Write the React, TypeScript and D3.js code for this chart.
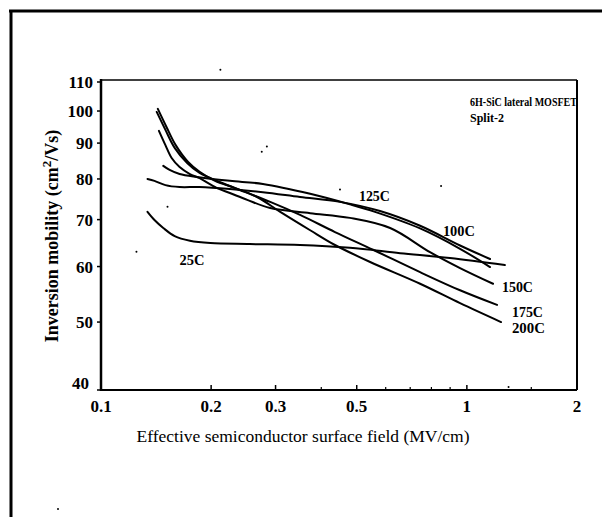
import React from "react";
import * as d3 from "d3";

const W = 602;
const H = 517;

const xTicks = [0.1, 0.2, 0.3, 0.5, 1, 2];
const xTickLabels = ["0.1", "0.2", "0.3", "0.5", "1", "2"];
const xMinorTicks = [0.4, 0.6, 0.7, 0.8, 0.9, 1.5];
const yTicks = [40, 50, 60, 70, 80, 90, 100, 110];

const series25C = [
  [0.134, 71.8], [0.14, 69.9], [0.148, 68.1], [0.159, 66.3], [0.175, 65.3],
  [0.199, 64.8], [0.255, 64.6], [0.35, 64.4], [0.479, 63.8], [0.657, 62.7],
  [0.899, 61.7], [1.27, 60.3],
];
const series100C = [
  [0.134, 80.0], [0.14, 79.5], [0.15, 78.4], [0.164, 77.9], [0.186, 77.9],
  [0.225, 77.4], [0.277, 76.6], [0.35, 75.4], [0.45, 74.2], [0.579, 72.0],
  [0.745, 68.6], [0.958, 64.3], [1.157, 61.5],
];
const series125C = [
  [0.148, 83.5], [0.154, 82.4], [0.164, 81.3], [0.183, 80.5], [0.225, 79.5],
  [0.277, 78.7], [0.373, 76.2], [0.479, 73.6], [0.561, 71.8], [0.745, 68.0],
  [0.958, 63.6], [1.157, 59.9],
];
const series150C = [
  [0.144, 93.7], [0.15, 89.4], [0.156, 85.7], [0.164, 83.2], [0.175, 81.3],
  [0.186, 80.2], [0.207, 77.7], [0.225, 76.4], [0.251, 74.7], [0.29, 72.7],
  [0.373, 71.5], [0.479, 70.4], [0.617, 68.1], [0.793, 62.9], [0.958, 59.7],
  [1.179, 56.7],
];
const series175C = [
  [0.142, 99.7], [0.15, 94.0], [0.159, 88.6], [0.172, 84.3], [0.186, 81.6],
  [0.211, 79.2], [0.248, 76.6], [0.29, 74.2], [0.35, 71.1], [0.436, 67.2],
  [0.554, 63.4], [0.745, 58.9], [0.958, 55.5], [1.209, 52.9],
];
const series200C = [
  [0.143, 100.7], [0.151, 94.9], [0.16, 89.4], [0.173, 84.6], [0.186, 81.9],
  [0.205, 79.5], [0.232, 77.7], [0.267, 75.4], [0.309, 71.8], [0.373, 67.6],
  [0.436, 64.4], [0.544, 60.9], [0.745, 56.7], [0.958, 53.2], [1.24, 50.0],
];

const seriesList = [series25C, series100C, series125C, series150C, series175C, series200C];

const curveLabels = [
  { text: "25C", x: 0.164, y: 60.3, w: 25 },
  { text: "125C", x: 0.507, y: 74.3, w: 31 },
  { text: "100C", x: 0.86, y: 66.4, w: 32 },
  { text: "150C", x: 1.247, y: 55.2, w: 31 },
  { text: "175C", x: 1.328, y: 50.8, w: 31 },
  { text: "200C", x: 1.328, y: 48.2, w: 33 },
];

// scan specks [field, mobility]
const specks = [
  [0.212, 114.5], [0.275, 87.5], [0.284, 89.0], [0.152, 73.0], [0.125, 63.0],
  [0.45, 77.3], [0.85, 78.2], [1.3, 40.4],
];

const serif = "'Liberation Serif', 'DejaVu Serif', serif";

export default function App() {
  const x = d3.scaleLog().domain([0.1, 2]).range([101, 577]);
  const y = d3.scaleLog().domain([40, 110]).range([390, 82]);
  const line = d3
    .line<number[]>()
    .x((d) => x(d[0]))
    .y((d) => y(d[1]))
    .curve(d3.curveCatmullRom.alpha(0.5));

  const left = x(0.1);
  const right = x(2);
  const bottom = y(40);
  const top = y(110) - 2;

  return (
    <svg
      width={W}
      height={H}
      style={{ position: "absolute", left: 0, top: 0, background: "#fff" }}
      fontFamily={serif}
    >
      <rect x={0} y={0} width={W} height={H} fill="#fff" />
      {/* scan border */}
      <line x1={9} y1={11} x2={W} y2={11} stroke="#000" strokeWidth={3} />
      <line x1={11} y1={10} x2={11} y2={H} stroke="#000" strokeWidth={3} />

      {/* frame */}
      <line x1={left} y1={top} x2={right} y2={top} stroke="#000" strokeWidth={1.5} />
      <line x1={right} y1={top} x2={right} y2={bottom} stroke="#000" strokeWidth={2} />
      <line x1={left} y1={bottom} x2={right} y2={bottom} stroke="#000" strokeWidth={2} />
      <line x1={left} y1={top - 1} x2={left} y2={bottom + 1} stroke="#000" strokeWidth={2.5} />

      {/* y ticks */}
      {yTicks.map((t) => (
        <g key={"y" + t}>
          <line x1={left - 4} x2={left} y1={y(t)} y2={y(t)} stroke="#000" strokeWidth={1.5} />
          <text
            x={t === 40 ? left - 12 : left - 8}
            y={t === 40 ? y(t) - 1 : y(t) + 6}
            textAnchor="end"
            fontSize={17}
            fontWeight="bold"
          >
            {t}
          </text>
        </g>
      ))}

      {/* x ticks */}
      {xTicks.map((t, i) => (
        <g key={"x" + t}>
          <line x1={x(t)} x2={x(t)} y1={bottom} y2={bottom - 5} stroke="#000" strokeWidth={1.5} />
          <text x={x(t)} y={bottom + 22} textAnchor="middle" fontSize={17} fontWeight="bold">
            {xTickLabels[i]}
          </text>
        </g>
      ))}
      {xMinorTicks.map((t) => (
        <line key={"m" + t} x1={x(t)} x2={x(t)} y1={bottom} y2={bottom - 3} stroke="#000" strokeWidth={1.2} />
      ))}

      {/* axis titles */}
      <text x={303} y={442} textAnchor="middle" fontSize={17.5}>
        Effective semiconductor surface field (MV/cm)
      </text>
      <text
        transform={`translate(58, 236) rotate(-90)`}
        textAnchor="middle"
        fontSize={18}
        fontWeight="bold"
      >
        Inversion mobility (cm
        <tspan dy={-7} fontSize={13}>2</tspan>
        <tspan dy={7}>/Vs)</tspan>
      </text>

      {/* annotation */}
      <text x={470} y={106} fontSize={12} fontWeight="bold" textLength={107} lengthAdjust="spacingAndGlyphs">
        6H-SiC lateral MOSFET
      </text>
      <text x={470} y={122} fontSize={12} fontWeight="bold" textLength={34} lengthAdjust="spacingAndGlyphs">
        Split-2
      </text>

      {/* curves */}
      {seriesList.map((s, i) => (
        <path key={"c" + i} d={line(s) || ""} fill="none" stroke="#000" strokeWidth={2} strokeLinecap="round" />
      ))}

      {curveLabels.map((l) => (
        <text
          key={l.text}
          x={x(l.x)}
          y={y(l.y)}
          fontSize={14}
          fontWeight="bold"
          textLength={l.w}
          lengthAdjust="spacingAndGlyphs"
        >
          {l.text}
        </text>
      ))}

      {specks.map((p, i) => (
        <circle key={"s" + i} cx={x(p[0])} cy={y(p[1])} r={1} fill="#000" />
      ))}
      <circle cx={58} cy={509} r={1} fill="#000" />
    </svg>
  );
}
